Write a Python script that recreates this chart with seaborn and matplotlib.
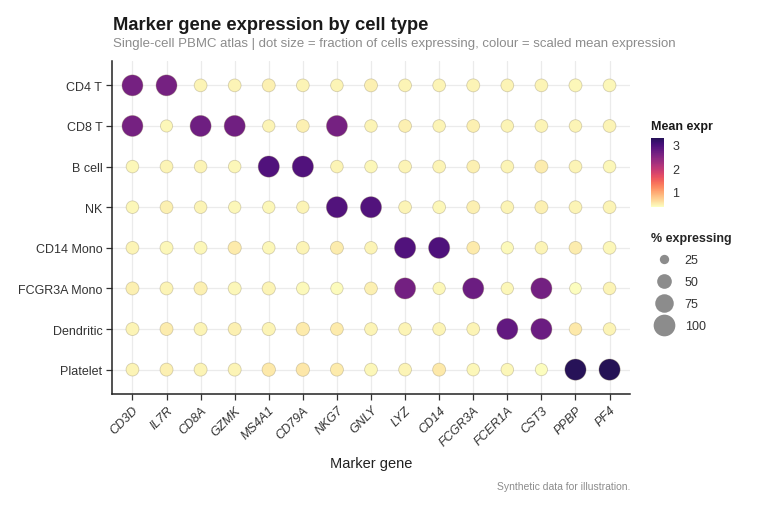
import numpy as np
import pandas as pd
import matplotlib
matplotlib.use("Agg")
import matplotlib.pyplot as plt
import seaborn as sns
from matplotlib.colors import ListedColormap, Normalize
from matplotlib.lines import Line2D
from matplotlib.cm import ScalarMappable

genes = ["CD3D", "IL7R", "CD8A", "GZMK", "MS4A1", "CD79A", "NKG7", "GNLY",
         "LYZ", "CD14", "FCGR3A", "FCER1A", "CST3", "PPBP", "PF4"]
cell_types = ["CD4 T", "CD8 T", "B cell", "NK", "CD14 Mono", "FCGR3A Mono",
              "Dendritic", "Platelet"]

# % of cells expressing (rows = cell types, cols = genes)
pct_cd4t   = [94, 94, 40, 40, 41, 40, 39, 41, 40, 40, 41, 40, 40, 41, 40]
pct_cd8t   = [94, 37, 95, 95, 38, 40, 94, 39, 40, 39, 40, 39, 40, 39, 40]
pct_bcell  = [39, 40, 39, 39, 96, 96, 39, 39, 40, 40, 40, 40, 41, 40, 39]
pct_nk     = [39, 40, 39, 38, 38, 38, 95, 95, 40, 40, 41, 40, 41, 40, 40]
pct_cd14   = [40, 41, 40, 42, 39, 40, 41, 39, 96, 96, 40, 38, 39, 40, 40]
pct_fcgr3a = [41, 41, 42, 41, 42, 40, 38, 40, 95, 38, 95, 38, 95, 35, 39]
pct_dc     = [41, 41, 41, 41, 42, 43, 40, 40, 40, 40, 40, 95, 95, 39, 39]
pct_plt    = [40, 41, 41, 41, 43, 43, 41, 40, 40, 41, 39, 39, 37, 96, 96]

# scaled mean expression
mean_cd4t   = [2.62, 2.62, 0.40, 0.42, 0.44, 0.42, 0.40, 0.44, 0.42, 0.40, 0.42, 0.40, 0.42, 0.38, 0.38]
mean_cd8t   = [2.62, 0.38, 2.68, 2.67, 0.40, 0.44, 2.62, 0.40, 0.44, 0.40, 0.44, 0.40, 0.42, 0.40, 0.42]
mean_bcell  = [0.38, 0.42, 0.42, 0.38, 2.95, 2.95, 0.42, 0.38, 0.42, 0.40, 0.44, 0.40, 0.46, 0.42, 0.38]
mean_nk     = [0.38, 0.44, 0.42, 0.38, 0.38, 0.40, 2.92, 2.92, 0.40, 0.38, 0.44, 0.40, 0.44, 0.40, 0.40]
mean_cd14   = [0.40, 0.38, 0.38, 0.47, 0.38, 0.42, 0.46, 0.40, 2.95, 2.97, 0.47, 0.37, 0.42, 0.46, 0.38]
mean_fcgr3a = [0.44, 0.42, 0.44, 0.38, 0.42, 0.37, 0.36, 0.44, 2.64, 0.38, 2.71, 0.38, 2.64, 0.35, 0.40]
mean_dc     = [0.42, 0.46, 0.42, 0.44, 0.40, 0.47, 0.47, 0.40, 0.40, 0.40, 0.40, 2.78, 2.71, 0.49, 0.40]
mean_plt    = [0.42, 0.44, 0.40, 0.40, 0.49, 0.51, 0.47, 0.38, 0.42, 0.50, 0.38, 0.38, 0.33, 3.28, 3.30]

pct_rows = [pct_cd4t, pct_cd8t, pct_bcell, pct_nk, pct_cd14, pct_fcgr3a, pct_dc, pct_plt]
mean_rows = [mean_cd4t, mean_cd8t, mean_bcell, mean_nk, mean_cd14, mean_fcgr3a, mean_dc, mean_plt]

size_breaks = [25, 50, 75, 100]
color_ticks = [1, 2, 3]

records = []
for ct, prow, mrow in zip(cell_types, pct_rows, mean_rows):
    for g, p, m in zip(genes, prow, mrow):
        records.append({"gene": g, "cell": ct, "pct": p, "mean": m})
df = pd.DataFrame(records)

sns.set_theme(style="whitegrid")
plt.rcParams['font.family'] = ['Liberation Sans', 'DejaVu Sans']

fig = plt.figure(figsize=(7.6, 5.06), dpi=100)
ax = fig.add_axes([112 / 760, 1 - 395 / 506, (630 - 112) / 760, (395 - 62) / 506])

cmap = ListedColormap(plt.get_cmap("magma")(np.linspace(1.0, 0.15, 256)))
norm = Normalize(vmin=df["mean"].min(), vmax=df["mean"].max())
smin, smax = 45, 244

sns.scatterplot(data=df, x="gene", y="cell", hue="mean", size="pct",
                palette=cmap, hue_norm=norm, sizes=(smin, smax),
                size_norm=(25, 100), edgecolor=(0.55, 0.5, 0.35, 0.35),
                linewidth=0.6, legend=False, ax=ax, zorder=3)

ax.set_xlim(-0.6, len(genes) - 1 + 0.6)
ax.set_ylim(len(cell_types) - 1 + 0.6, -0.6)
ax.set_facecolor("white")
ax.grid(True, color="#ebebeb", linewidth=0.9)
for s in ["top", "right"]:
    ax.spines[s].set_visible(False)
for s in ["left", "bottom"]:
    ax.spines[s].set_visible(True)
    ax.spines[s].set_color("#222222")
    ax.spines[s].set_linewidth(1.1)
ax.tick_params(axis="both", which="both", length=4, width=0.9, color="#333333",
               labelsize=9, labelcolor="#333333", pad=3, left=True, bottom=True)
ax.set_xticks(range(len(genes)))
ax.set_xticklabels(genes, rotation=45, ha="right", rotation_mode="anchor",
                   fontstyle="italic")
ax.set_xlabel("Marker gene", fontsize=10.5, color="#222222", labelpad=6)
ax.set_ylabel("")

fig.text(113 / 760, 1 - 25 / 506, "Marker gene expression by cell type",
         fontsize=13.2, fontweight="bold", color="#1a1a1a", va="center", ha="left")
fig.text(113 / 760, 1 - 44 / 506,
         "Single-cell PBMC atlas | dot size = fraction of cells expressing, colour = scaled mean expression",
         fontsize=9.5, color="#8c8c8c", va="center", ha="left")
fig.text(630 / 760, 1 - 487 / 506, "Synthetic data for illustration.",
         fontsize=7.5, color="#8c8c8c", va="center", ha="right")

# colour legend
fig.text(651 / 760, 1 - 127 / 506, "Mean expr", fontsize=9, fontweight="bold",
         color="#1a1a1a", va="center", ha="left")
cax = fig.add_axes([651 / 760, 1 - 208 / 506, 13 / 760, 69 / 506])
cb = fig.colorbar(ScalarMappable(norm=norm, cmap=cmap), cax=cax, ticks=color_ticks)
cb.outline.set_visible(False)
cax.tick_params(direction="in", length=2.5, width=0.6, color="white",
                left=True, right=True, labelleft=False, labelright=True,
                labelsize=9, labelcolor="#333333", pad=6)
cax.grid(False)

# size legend
def size_of(v):
    return smin + (v - 25) / 75 * (smax - smin)

handles = [Line2D([], [], linestyle="none", marker="o", markersize=np.sqrt(size_of(v)),
                  markerfacecolor="#8c8c8c", markeredgecolor="none") for v in size_breaks]
leg = fig.legend(handles, [str(v) for v in size_breaks], title="% expressing",
                 loc="upper left", bbox_to_anchor=(646 / 760, 1 - 228 / 506),
                 frameon=False, fontsize=9, title_fontsize=9,
                 labelspacing=0.8, handletextpad=0.7, handlelength=2.0,
                 borderaxespad=0)
leg.get_title().set_fontweight("bold")
leg._legend_box.align = "left"
for t in leg.get_texts():
    t.set_color("#333333")

fig.savefig("out.png", dpi=100, facecolor="white")
